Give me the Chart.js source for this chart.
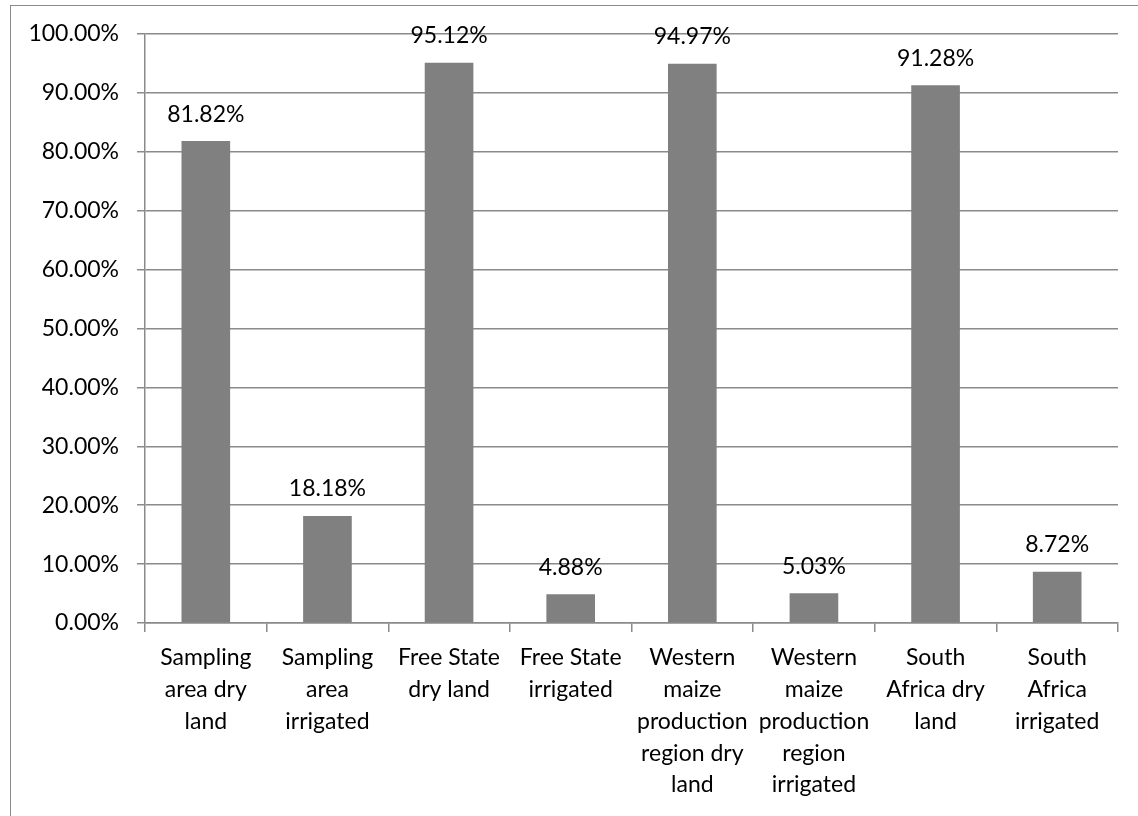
<!DOCTYPE html>
<html>
<head>
<meta charset="utf-8">
<script src="https://cdn.jsdelivr.net/npm/chart.js@4/dist/chart.umd.min.js"></script>
<style>
  html, body { margin: 0; padding: 0; background: #fff; overflow: hidden; }
  .frame {
    position: absolute; left: 10px; top: 5px;
    width: 1140px; height: 830px;
    border: 1.5px solid #8a8a8a;
  }
  #wrap { position: absolute; left: 0; top: 0; width: 1138px; height: 816px; }
</style>
</head>
<body>
<div class="frame"></div>
<div id="wrap"><canvas id="shareChart"></canvas></div>
<script>
const categories = [
  ['Sampling', 'area dry', 'land'],
  ['Sampling', 'area', 'irrigated'],
  ['Free State', 'dry land'],
  ['Free State', 'irrigated'],
  ['Western', 'maize', 'production', 'region dry', 'land'],
  ['Western', 'maize', 'production', 'region', 'irrigated'],
  ['South', 'Africa dry', 'land'],
  ['South', 'Africa', 'irrigated']
];
const shares = [81.82, 18.18, 95.12, 4.88, 94.97, 5.03, 91.28, 8.72];
const yTicks = [0, 10, 20, 30, 40, 50, 60, 70, 80, 90, 100];

const FONT = 'Lato, "Open Sans", sans-serif';
const FONT_SIZE = 23;
const GRID = '#8a8a8a';

// value labels above each bar
const barLabels = {
  id: 'barLabels',
  afterDatasetsDraw(chart) {
    const ctx = chart.ctx;
    const meta = chart.getDatasetMeta(0);
    ctx.save();
    ctx.font = FONT_SIZE + 'px ' + FONT;
    ctx.fillStyle = '#000';
    ctx.textAlign = 'center';
    ctx.textBaseline = 'middle';
    meta.data.forEach((bar, i) => {
      ctx.fillText(shares[i].toFixed(2) + '%', bar.x, bar.y - 27);
    });
    ctx.restore();
  }
};

new Chart(document.getElementById('shareChart'), {
  type: 'bar',
  data: {
    labels: categories,
    datasets: [{
      data: shares,
      backgroundColor: '#808080',
      borderWidth: 0,
      categoryPercentage: 1,
      barPercentage: 0.4
    }]
  },
  options: {
    responsive: true,
    maintainAspectRatio: false,
    animation: false,
    layout: { padding: { top: 34, right: 20, left: 0, bottom: 0 } },
    plugins: {
      legend: { display: false },
      tooltip: { enabled: false }
    },
    scales: {
      x: {
        grid: {
          offset: true,
          drawOnChartArea: false,
          drawTicks: true,
          tickLength: 9,
          color: GRID,
          lineWidth: 1.5
        },
        border: { display: true, color: GRID, width: 1.5 },
        ticks: {
          color: '#000',
          font: { family: FONT, size: FONT_SIZE, lineHeight: 1.38 },
          maxRotation: 0,
          autoSkip: false,
          padding: 10
        },
        afterFit(scale) { scale.height = 816 - 623; }
      },
      y: {
        min: 0,
        max: 100,
        afterBuildTicks(scale) { scale.ticks = yTicks.map(v => ({ value: v })); },
        grid: { color: GRID, lineWidth: 1.5, tickLength: 8 },
        border: { display: true, color: GRID, width: 1.5 },
        ticks: {
          color: '#000',
          font: { family: FONT, size: FONT_SIZE },
          padding: 18,
          callback: v => v.toFixed(2) + '%'
        },
        afterFit(scale) { scale.width = 145; }
      }
    }
  },
  plugins: [barLabels]
});
</script>
</body>
</html>
